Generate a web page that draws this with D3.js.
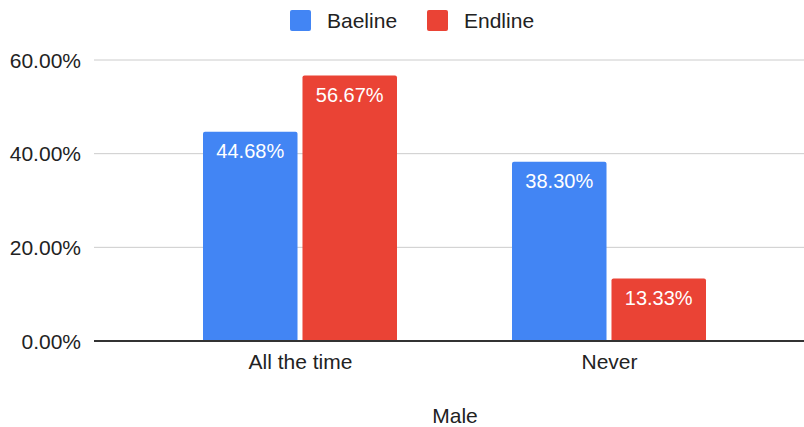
<!DOCTYPE html>
<html>
<head>
<meta charset="utf-8">
<script src="https://cdn.jsdelivr.net/npm/d3@7"></script>
<style>
  html, body { margin: 0; padding: 0; background: #fff; }
  text { font-family: "Liberation Sans", Arial, sans-serif; }
</style>
</head>
<body>
<svg id="chart" width="804" height="427"></svg>
<script>
// Chart data
const categories = ["All the time", "Never"];
const seriesNames = ["Baeline", "Endline"];
const baeline = [44.68, 38.30];
const endline = [56.67, 13.33];
const yTicks = [0, 20, 40, 60];
const axisTitle = "Male";
const colors = ["#4285F4", "#EA4335"];

const seriesValues = [baeline, endline];
const rows = categories.map((c, i) => ({
  category: c,
  values: seriesNames.map((s, j) => ({ series: s, idx: j, value: seriesValues[j][i] }))
}));

const svg = d3.select("#chart");
const plotLeft = 94, plotRight = 804, plotTop = 60, plotBottom = 341;
const textColor = "#222222";

const y = d3.scaleLinear().domain([0, 60]).range([plotBottom, plotTop]);
const x0 = d3.scaleBand().domain(categories).range([146, 764]);
const x1 = d3.scaleBand().domain(seriesNames).range([57, 251]).paddingInner(0.05);

// Gridlines and y tick labels
svg.append("g").selectAll("line").data(yTicks.filter(t => t > 0)).join("line")
  .attr("x1", plotLeft).attr("x2", plotRight)
  .attr("y1", d => y(d)).attr("y2", d => y(d))
  .attr("stroke", "#cccccc").attr("stroke-width", 1);

svg.append("g").selectAll("text").data(yTicks).join("text")
  .attr("x", 81).attr("y", d => y(d)).attr("dy", "0.36em")
  .attr("text-anchor", "end")
  .attr("font-size", 21).attr("fill", textColor)
  .text(d => d3.format(".2f")(d) + "%");

// Bars with slightly rounded top corners
function barPath(x, yTop, w, h, r) {
  r = Math.min(r, h, w / 2);
  return `M${x},${yTop + h}V${yTop + r}Q${x},${yTop} ${x + r},${yTop}` +
         `H${x + w - r}Q${x + w},${yTop} ${x + w},${yTop + r}V${yTop + h}Z`;
}

const groups = svg.append("g").selectAll("g").data(rows).join("g")
  .attr("transform", d => `translate(${x0(d.category)},0)`);

groups.selectAll("path").data(d => d.values).join("path")
  .attr("d", d => barPath(x1(d.series), y(d.value), x1.bandwidth(), plotBottom - y(d.value), 2))
  .attr("fill", d => colors[d.idx]);

groups.selectAll("text").data(d => d.values).join("text")
  .attr("x", d => x1(d.series) + x1.bandwidth() / 2)
  .attr("y", d => y(d.value) + 26)
  .attr("text-anchor", "middle")
  .attr("font-size", 20).attr("fill", "#ffffff")
  .text(d => d3.format(".2f")(d.value) + "%");

// Baseline
svg.append("line")
  .attr("x1", plotLeft).attr("x2", plotRight)
  .attr("y1", y(0)).attr("y2", y(0))
  .attr("stroke", "#333333").attr("stroke-width", 2);

// Category labels
svg.append("g").selectAll("text").data(categories).join("text")
  .attr("x", d => x0(d) + x0.bandwidth() / 2)
  .attr("y", 369)
  .attr("text-anchor", "middle")
  .attr("font-size", 21).attr("fill", textColor)
  .text(d => d);

// Axis title
svg.append("text")
  .attr("x", 455).attr("y", 423)
  .attr("text-anchor", "middle")
  .attr("font-size", 21).attr("fill", textColor)
  .text(axisTitle);

// Legend
const legendX = [290, 427];
const legend = svg.append("g").selectAll("g").data(seriesNames).join("g")
  .attr("transform", (d, i) => `translate(${legendX[i]},10)`);
legend.append("rect")
  .attr("width", 21).attr("height", 21).attr("rx", 2)
  .attr("fill", (d, i) => colors[i]);
legend.append("text")
  .attr("x", 37).attr("y", 10.5).attr("dy", "0.36em")
  .attr("font-size", 21).attr("fill", textColor)
  .text(d => d);
</script>
</body>
</html>
